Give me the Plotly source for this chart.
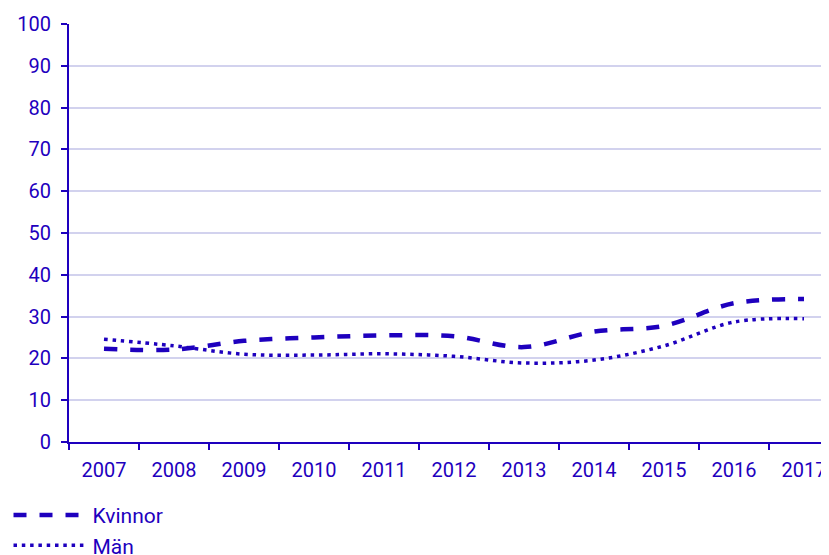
import plotly.graph_objects as go

years = ["2007", "2008", "2009", "2010", "2011", "2012", "2013", "2014", "2015", "2016", "2017"]
kvinnor = [22.3, 22.1, 24.2, 25.0, 25.5, 25.3, 22.7, 26.4, 27.8, 33.2, 34.2]
man = [24.6, 23.0, 21.0, 20.8, 21.1, 20.5, 18.9, 19.6, 23.0, 28.7, 29.5]

color = "#1e00be"

fig = go.Figure()
fig.add_trace(
    go.Scatter(
        x=years, y=kvinnor, mode="lines", name="Kvinnor",
        line=dict(color=color, width=4.5, dash="13px,13px", shape="spline"),
    )
)
fig.add_trace(
    go.Scatter(
        x=years, y=man, mode="lines", name="Män",
        line=dict(color=color, width=3.5, dash="3.5px,4.8px", shape="spline"),
    )
)

# the page body has an 8px margin, so the figure is made 8px smaller
fig.update_layout(
    width=821,
    height=547,
    margin=dict(l=61, r=0, t=16, b=113, autoexpand=False),
    plot_bgcolor="white",
    paper_bgcolor="white",
    font=dict(family="Roboto", size=20, color=color),
    showlegend=True,
    legend=dict(
        orientation="v", x=-0.0796, y=-0.1265, xanchor="left", yanchor="top",
        font=dict(family="Roboto", size=21, color=color), tracegroupgap=0,
        itemwidth=74,
    ),
    xaxis=dict(
        type="category",
        range=[-0.5, 10.357],
        automargin=False,
        showgrid=False,
        showline=True, linecolor=color, linewidth=2,
        ticks="outside", tickson="boundaries", ticklen=6, tickcolor=color, tickwidth=2,
        tickfont=dict(family="Roboto", size=20, color=color),
        ticklabelstandoff=9,
        ticklabeloverflow="allow",
    ),
    yaxis=dict(
        range=[0, 100], dtick=10,
        automargin=False,
        showgrid=True, gridcolor="#d2d2ee", gridwidth=2,
        showline=True, linecolor=color, linewidth=2,
        ticks="outside", ticklen=6, tickcolor=color, tickwidth=2,
        tickfont=dict(family="Roboto", size=20, color=color),
        ticklabelstandoff=6,
        zeroline=False,
    ),
)

fig.write_html("out.html")
